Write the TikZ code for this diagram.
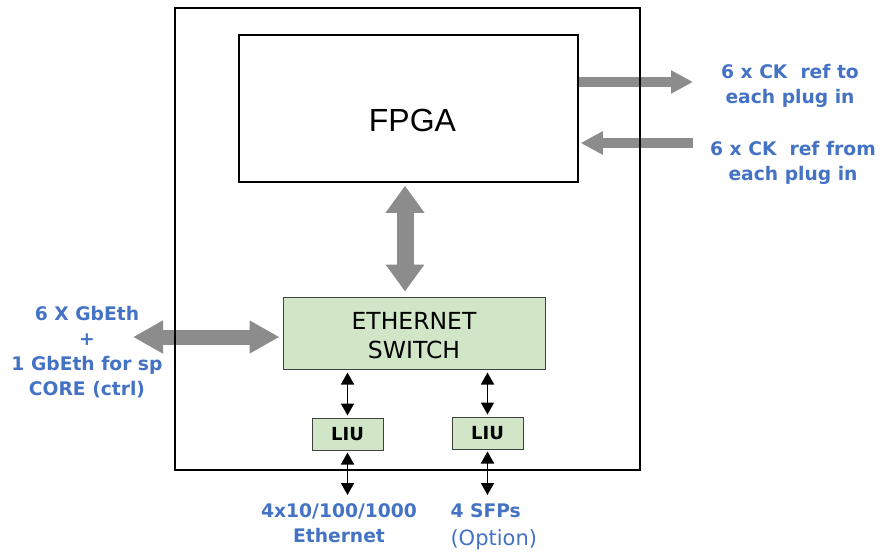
\documentclass[tikz,border=0pt]{standalone}
\usepackage{fontspec}
\setmainfont{DejaVu Sans}
\newfontfamily\arialfont{Liberation Sans}
\usetikzlibrary{arrows.meta,positioning}
\definecolor{lblue}{RGB}{68,114,196}
\definecolor{boxgreen}{RGB}{209,230,199}
\definecolor{fatgray}{RGB}{140,140,140}

\begin{document}
\begin{tikzpicture}[x=1pt,y=-1pt,
  blk/.style={draw=black!75,fill=boxgreen,line width=1pt,inner sep=0pt},
  lbl/.style={text=lblue,align=center,font=\fontsize{18.7}{25}\selectfont\bfseries},
  fat/.style={fatgray,line width=10pt,-{Triangle[length=22pt,width=22pt]}},
  linkarrow/.style={black,line width=1.6pt,{Triangle[length=12pt,width=13pt]}-{Triangle[length=12pt,width=13pt]}}]
\useasboundingbox (0,0) rectangle (881,554);

% blocks
\node[draw,line width=1.5pt,minimum width=339pt,minimum height=147pt,inner sep=0pt,
  label={[font=\arialfont\fontsize{32}{32}\selectfont,xshift=4pt,yshift=-12pt]center:FPGA}] (fpga) at (408.5,108.5) {};
\node[blk,minimum width=262pt,minimum height=72pt,
  label={[align=center,font=\fontsize{23.5}{29}\selectfont,yshift=-3pt]center:ETHERNET\\SWITCH}] (switch) at (414,333) {};
\node[blk,minimum width=71pt,minimum height=32pt,font=\fontsize{18}{18}\selectfont\bfseries] (liuA) at (347.5,434) {LIU};
\node[blk,minimum width=71pt,minimum height=32pt,font=\fontsize{18}{18}\selectfont\bfseries] (liuB) at (487.5,433) {LIU};

% labels
\node[lbl] (ckto) at (790,86) {6 x CK\ \ ref to\\each plug in};
\node[lbl] (ckfrom) at (793,162.5) {6 x CK\ \ ref from\\each plug in};
\node[lbl] (gbeth) at (87,352) {6 X GbEth\\+\\1 GbEth for sp\\CORE (ctrl)};
\node[lbl] (ethlbl) at (339,523) {4x10/100/1000\\Ethernet};
\node[lbl,font=\fontsize{21}{28}\selectfont,align=left,anchor=west] (sfplbl) at (447,527) {{\fontsize{18.7}{25}\selectfont\bfseries 4 SFPs}\\(Option)};

% big gray arrows
\coordinate (ckout) at (693,82);
\coordinate (ckin) at (693,143);
\coordinate (gbe) at (133,337);
\draw[fat] (fpga.east |- ckout) -- (ckout);
\draw[fat] (ckin) -- ([xshift=2pt]fpga.east |- ckin);
\draw[fatgray,line width=17pt,{Triangle[length=27pt,width=37pt]}-{Triangle[length=27pt,width=37pt]}]
  ([xshift=-3.5pt,yshift=-3pt]fpga.south) -- ([xshift=-9pt,yshift=5pt]switch.north);
\draw[fatgray,line width=15pt,{Triangle[length=30pt,width=31pt]}-{Triangle[length=30pt,width=31pt]}]
  (gbe) -- ([xshift=-3pt]switch.west |- gbe);

% small links
\coordinate (ethA) at (347.5,495);
\coordinate (ethB) at (487.5,495);
\draw[linkarrow] ([yshift=-3pt]switch.south -| liuA.north) -- ([yshift=2pt]liuA.north);
\draw[linkarrow] ([yshift=-3pt]switch.south -| liuB.north) -- ([yshift=2pt]liuB.north);
\draw[linkarrow] ([yshift=-2pt]liuA.south) -- (ethA);
\draw[linkarrow] ([yshift=-2pt]liuB.south) -- (ethB);

% board outline on top
\node[draw,line width=2pt,minimum width=465pt,minimum height=462pt,inner sep=0pt] (board) at (407.5,239) {};
\end{tikzpicture}
\end{document}
